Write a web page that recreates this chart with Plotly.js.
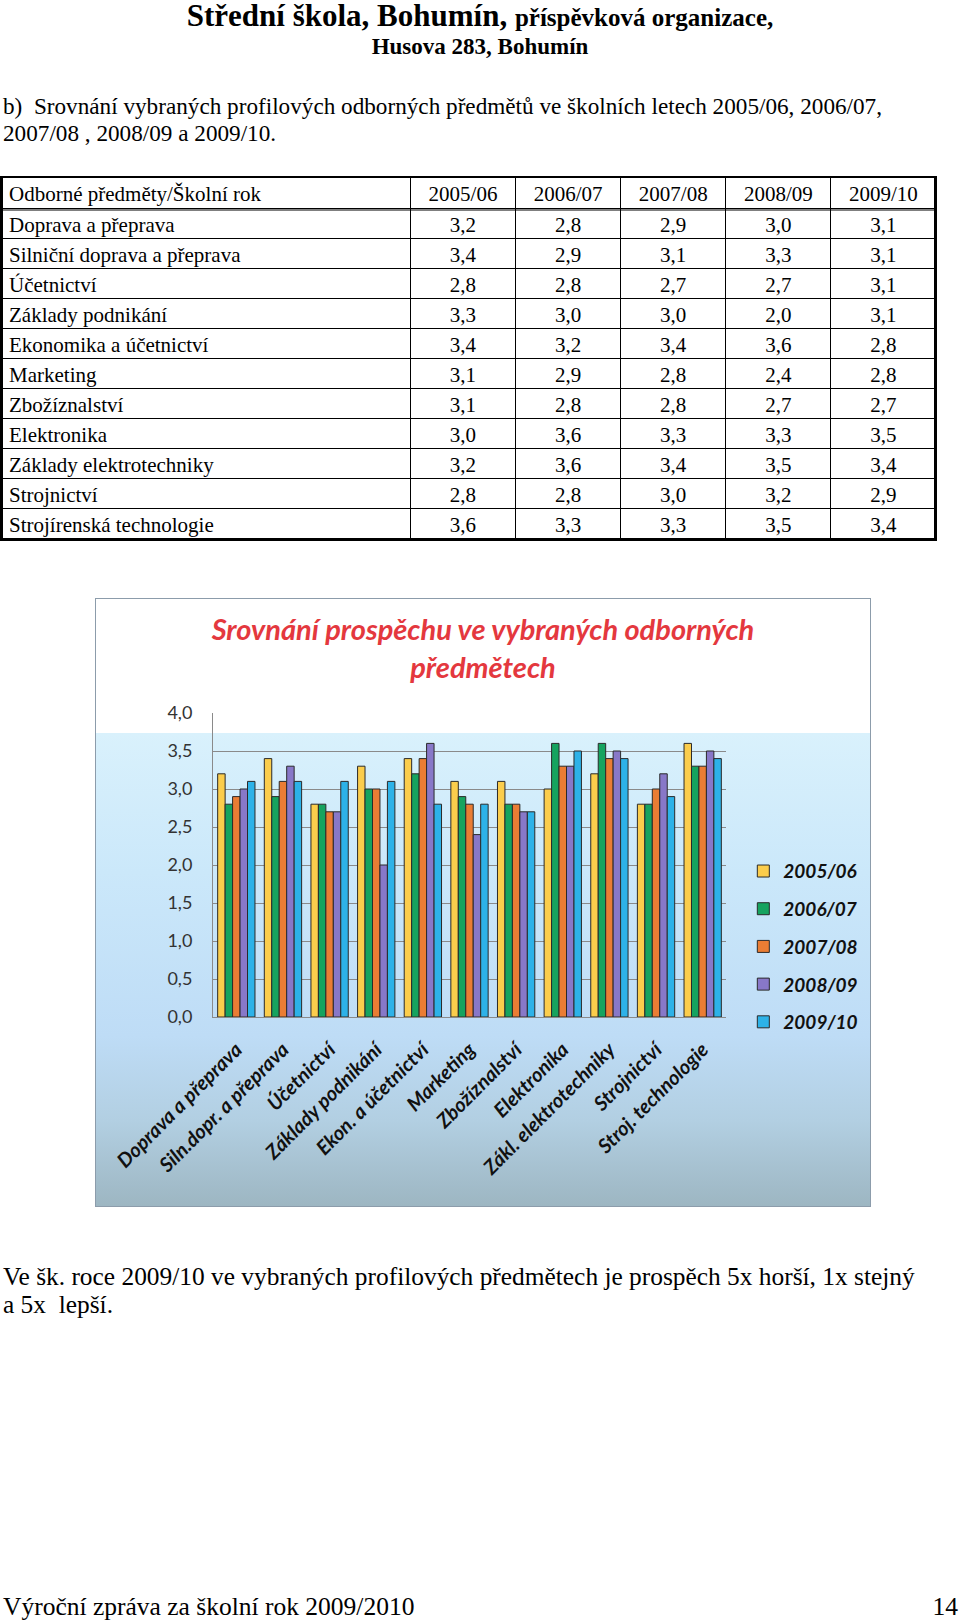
<!DOCTYPE html>
<html>
<head>
<meta charset="utf-8">
<script src="https://cdn.plot.ly/plotly-3.0.1.min.js"></script>
<style>
  html, body { margin:0; padding:0; background:#fff; }
  body { width:960px; height:1620px; position:relative; overflow:hidden; font-family:"Liberation Serif","Times New Roman",serif; color:#000; }
  .abs { position:absolute; white-space:pre; }
  #chart { position:absolute; left:95px; top:598px; width:776px; height:609px; box-sizing:border-box; border:1px solid #8c9cab;
    background: linear-gradient(to bottom, #ffffff 0px, #ffffff 134px, #d9f1fc 134px, #cbe8fa 45%, #bedcf6 72%, #b2cfe2 86%, #9db6c2 100%); }
  #table { position:absolute; left:0; top:176px; width:940px; height:368px; }
</style>
</head>
<body>
<div class="abs" style="left:0;width:960px;text-align:center;top:0px;font-size:31px;line-height:31px;font-weight:bold;">Střední škola, Bohumín, <span style="font-size:25px;">příspěvková organizace,</span></div>
<div class="abs" style="left:0;width:960px;text-align:center;top:35px;font-size:23px;line-height:23px;font-weight:bold;">Husova 283, Bohumín</div>
<div class="abs" style="left:3px;top:93px;font-size:23.2px;line-height:26.5px;">b)  Srovnání vybraných profilových odborných předmětů ve školních letech 2005/06, 2006/07,
2007/08 , 2008/09 a 2009/10.</div>

<div id="table"></div>
<div id="chart"></div>

<div class="abs" style="left:3px;top:1262px;font-size:25.4px;line-height:28px;">Ve šk. roce 2009/10 ve vybraných profilových předmětech je prospěch 5x horší, 1x stejný
a 5x  lepší.</div>
<div class="abs" style="left:3px;top:1594px;font-size:25.5px;line-height:25px;">Výroční zpráva za školní rok 2009/2010</div>
<div class="abs" style="right:2px;top:1594px;font-size:25.5px;line-height:25px;">14</div>

<script>
// ---- data ----
const years = ['2005/06', '2006/07', '2007/08', '2008/09', '2009/10'];
const subjectsFull = ['Doprava a přeprava', 'Silniční doprava a přeprava', 'Účetnictví', 'Základy podnikání',
  'Ekonomika a účetnictví', 'Marketing', 'Zbožíznalství', 'Elektronika', 'Základy elektrotechniky',
  'Strojnictví', 'Strojírenská technologie'];
const subjectsShort = ['Doprava a přeprava', 'Siln.dopr. a přeprava', 'Účetnictví', 'Základy podnikání',
  'Ekon. a účetnictví', 'Marketing', 'Zbožíznalství', 'Elektronika', 'Zákl. elektrotechniky',
  'Strojnictví', 'Stroj. technologie'];
const v2005 = [3.2, 3.4, 2.8, 3.3, 3.4, 3.1, 3.1, 3.0, 3.2, 2.8, 3.6];
const v2006 = [2.8, 2.9, 2.8, 3.0, 3.2, 2.9, 2.8, 3.6, 3.6, 2.8, 3.3];
const v2007 = [2.9, 3.1, 2.7, 3.0, 3.4, 2.8, 2.8, 3.3, 3.4, 3.0, 3.3];
const v2008 = [3.0, 3.3, 2.7, 2.0, 3.6, 2.4, 2.7, 3.3, 3.5, 3.2, 3.5];
const v2009 = [3.1, 3.1, 3.1, 3.1, 2.8, 2.8, 2.7, 3.5, 3.4, 2.9, 3.4];
const yTickVals = [0, 0.5, 1, 1.5, 2, 2.5, 3, 3.5, 4];
const headerFirst = 'Odborné předměty/Školní rok';
const chartTitle = 'Srovnání prospěchu ve vybraných odborných<br>předmětech';
const seriesColors = ['#fbcd4c', '#16a35f', '#ea7d34', '#8878c8', '#2db2e8'];

const series = [v2005, v2006, v2007, v2008, v2009];
const fmt = v => v.toFixed(1).replace('.', ',');

// ---- table ----
const W = 940, H = 368;
const tableTrace = {
  type: 'table',
  domain: { x: [1 / W, 936 / W], y: [0, 1 - 1 / H] },
  columnwidth: [409, 105, 105, 105, 105, 105],
  header: {
    values: [headerFirst].concat(years),
    align: ['left', 'center', 'center', 'center', 'center', 'center'],
    height: 31,
    line: { color: '#000', width: 1 },
    fill: { color: '#fff' },
    font: { family: 'Liberation Serif', size: 21, color: '#000' }
  },
  cells: {
    values: [subjectsFull].concat(series.map(s => s.map(fmt))),
    align: ['left', 'center', 'center', 'center', 'center', 'center'],
    height: 30,
    line: { color: '#000', width: 1 },
    fill: { color: '#fff' },
    font: { family: 'Liberation Serif', size: 21, color: '#000' }
  }
};
const py = p => 1 - p / H;
Plotly.newPlot('table', [tableTrace], {
  width: W, height: H, margin: { l: 0, r: 0, t: 0, b: 0 },
  paper_bgcolor: 'rgba(0,0,0,0)',
  shapes: [
    { type: 'rect', xref: 'paper', yref: 'paper', x0: 1.5 / W, x1: 935.5 / W, y0: py(363.5), y1: py(0.5),
      line: { color: '#000', width: 3 } },
    { type: 'line', xref: 'paper', yref: 'paper', x0: 1.5 / W, x1: 935.5 / W, y0: py(34), y1: py(34),
      line: { color: '#000', width: 1 } }
  ]
}, { staticPlot: true, displayModeBar: false });

// ---- chart ----
const CW = 776, CH = 609;
const traces = years.map((y, i) => ({
  type: 'bar', name: y, x: subjectsShort, y: series[i],
  legendgroup: y,
  marker: { color: seriesColors[i], line: { color: '#2a2a2a', width: 1 } }
}));
Plotly.newPlot('chart', traces, {
  width: CW - 2, height: CH - 2,
  margin: { l: 117, r: 144, t: 114, b: 189 },
  paper_bgcolor: 'rgba(0,0,0,0)', plot_bgcolor: 'rgba(0,0,0,0)',
  separators: ', ',
  barmode: 'group', bargap: 0.2, bargroupgap: 0,
  title: {
    text: chartTitle, x: 0.5, xref: 'container', xanchor: 'center',
    y: 1 - 41 / CH, yref: 'container', yanchor: 'top',
    font: { family: 'Lato', size: 29, color: '#e4383e', style: 'italic', weight: 'bold' }
  },
  xaxis: {
    type: 'category', tickangle: -45, showgrid: false, showline: true, linecolor: '#8a8a8a', linewidth: 1,
    ticks: '', ticklabelstandoff: 12, automargin: false,
    tickfont: { family: 'Lato', size: 20, color: '#111', style: 'italic', weight: 'bold' }
  },
  yaxis: {
    range: [0, 4], tickvals: yTickVals, tickformat: '.1f', showgrid: true, gridcolor: '#8a8a8a', gridwidth: 1,
    showline: true, linecolor: '#8a8a8a', linewidth: 1, ticks: '', ticklabelstandoff: 16, zeroline: false,
    automargin: false,
    tickfont: { family: 'Lato', size: 18, color: '#333' }
  },
  showlegend: true,
  legend: {
    xref: 'container', yref: 'container', x: 649 / CW, y: 1 - 254 / CH, xanchor: 'left', yanchor: 'top',
    bgcolor: 'rgba(0,0,0,0)', borderwidth: 0, tracegroupgap: 10, traceorder: 'grouped',
    font: { family: 'Lato', size: 19, color: '#111', style: 'italic', weight: 'bold' }
  }
}, { staticPlot: true, displayModeBar: false });
</script>
</body>
</html>
